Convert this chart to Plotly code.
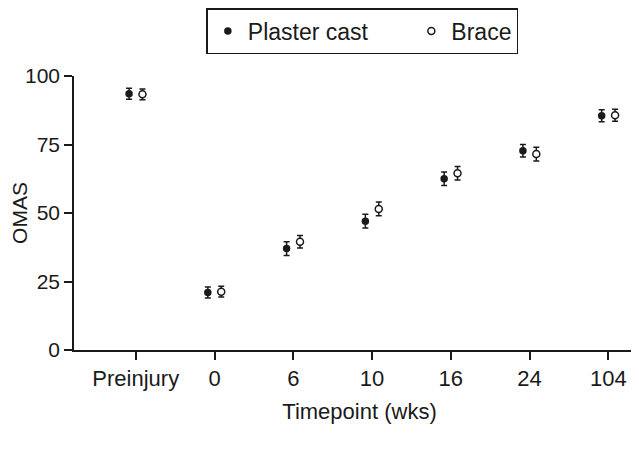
import plotly.graph_objects as go

categories = ["Preinjury", "0", "6", "10", "16", "24", "104"]
plaster_mean = [93.5, 21.0, 37.0, 47.0, 62.5, 72.7, 85.5]
plaster_err = [2.0, 2.0, 2.5, 2.5, 2.5, 2.3, 2.2]
brace_mean = [93.3, 21.3, 39.5, 51.5, 64.5, 71.5, 85.7]
brace_err = [2.0, 2.0, 2.3, 2.5, 2.5, 2.5, 2.2]
legend_names = ["Plaster cast" + "\u00a0" * 6, "Brace"]

idx = list(range(len(categories)))
off = 0.085

fig = go.Figure()
fig.add_trace(go.Scatter(
    x=[i - off for i in idx], y=plaster_mean, mode="markers", name=legend_names[0],
    marker=dict(symbol="circle", size=7.5, color="#1a1a1a", line=dict(width=0)),
    error_y=dict(type="data", array=plaster_err, visible=True, color="#1a1a1a", thickness=1.5, width=3),
))
fig.add_trace(go.Scatter(
    x=[i + off for i in idx], y=brace_mean, mode="markers", name=legend_names[1],
    marker=dict(symbol="circle", size=7, color="white", line=dict(width=1.5, color="#1a1a1a")),
    error_y=dict(type="data", array=brace_err, visible=True, color="#1a1a1a", thickness=1.5, width=3),
))

font = "Liberation Sans, Arial, sans-serif"
fig.update_layout(
    width=639, height=457,
    margin=dict(l=66, r=2, t=68, b=115),
    paper_bgcolor="white", plot_bgcolor="white",
    font=dict(family=font, size=22, color="#1a1a1a"),
    showlegend=True,
    legend=dict(orientation="h", x=0.505, xanchor="center", y=1.0, yanchor="top",
                yref="container", bordercolor="#1a1a1a", borderwidth=1.5,
                font=dict(size=23), itemwidth=30, tracegroupgap=0),
    xaxis=dict(range=[-0.784, 6.465], tickmode="array", tickvals=idx, ticktext=categories,
               showline=True, linecolor="#1a1a1a", linewidth=1.5, ticks="outside",
               ticklen=8, tickwidth=1.5, tickcolor="#1a1a1a", showgrid=False, zeroline=False,
               tickfont=dict(size=22), automargin=False,
               title=dict(text="Timepoint (wks)", font=dict(size=22), standoff=13)),
    yaxis=dict(range=[0, 100], tickvals=[0, 25, 50, 75, 100],
               showline=True, linecolor="#1a1a1a", linewidth=1.5, ticks="outside",
               ticklen=8, tickwidth=1.5, tickcolor="#1a1a1a", showgrid=False, zeroline=False,
               tickfont=dict(size=21), automargin=False,
               title=dict(text="OMAS", font=dict(size=21), standoff=8)),
)
fig.write_html("out.html")
